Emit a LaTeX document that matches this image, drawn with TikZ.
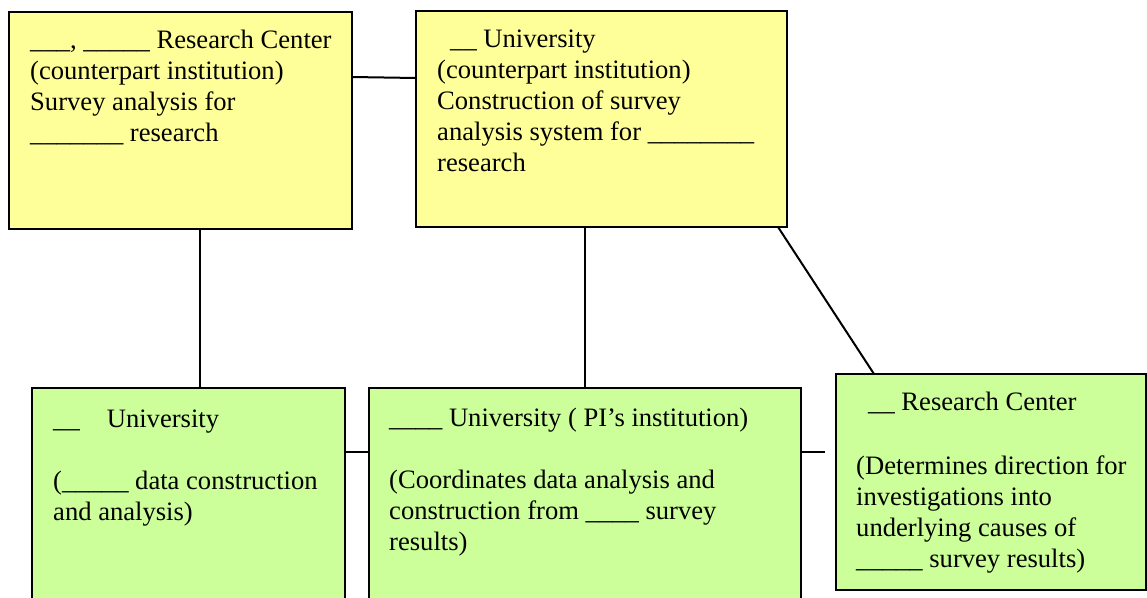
\documentclass[tikz,border=0pt]{standalone}
\usepackage{fontspec}
\setmainfont{Liberation Serif}
\definecolor{boxyellow}{HTML}{FFFF99}
\definecolor{boxgreen}{HTML}{CCFF99}
\newcommand{\fixsp}{\spaceskip=0.25em\relax}
\begin{document}
\begin{tikzpicture}[x=1pt,y=-1pt,
  ybox/.style={draw=black, line width=1.8pt, fill=boxyellow, rectangle, anchor=north west, inner sep=0pt, outer sep=0pt},
  gbox/.style={draw=black, line width=1.8pt, fill=boxgreen, rectangle, anchor=north west, inner sep=0pt, outer sep=0pt},
  boxtext/.style={anchor=base west, inner sep=0pt, text width=600pt, align=left, font=\fontsize{26.6}{31}\selectfont},
  link/.style={draw=black, line width=2pt}]
\useasboundingbox (0,0) rectangle (1147,597);
% boxes
\node[ybox, minimum width=343pt, minimum height=217pt] (b1) at (9,12) {};
\node[ybox, minimum width=371pt, minimum height=216pt] (b2) at (416,11) {};
\node[gbox, minimum width=313pt, minimum height=220pt] (b3) at (32,388) {};
\node[gbox, minimum width=432pt, minimum height=220pt] (b4) at (369,388) {};
\node[gbox, minimum width=310pt, minimum height=216pt] (b5) at (836,374) {};
% texts
\node[boxtext] (t1) at (30,48) {\fixsp\_\_\_, \_\_\_\_\_ Research Center\\(counterpart institution)\\Survey analysis for\\\_\_\_\_\_\_\_ research};
\node[boxtext] (t2) at (437,47) {\fixsp\hspace*{13pt}\_\_ University\\(counterpart institution)\\Construction of survey\\analysis system for \_\_\_\_\_\_\_\_\\research};
\node[boxtext] (t3) at (53,427) {\fixsp\_\_\hspace*{27pt}University\\[31pt](\_\_\_\_\_ data construction\\and analysis)};
\node[boxtext] (t4) at (389,426) {\fixsp\_\_\_\_ University ( PI’s institution)\\[31pt](Coordinates data analysis and\\construction from \_\_\_\_ survey\\results)};
\node[boxtext] (t5) at (856,410) {\fixsp\hspace*{12pt}\_\_ Research Center\\[33pt](Determines direction for\\investigations into\\underlying causes of\\\_\_\_\_\_ survey results)};
% connectors
\coordinate (free) at (825,452);
\draw[link] (b1.east |- 0,77) -- (b2.west |- 0,78);
\draw[link] (200,0 |- b1.south) -- (200,0 |- b3.north);
\draw[link] (585,0 |- b2.south) -- (585,0 |- b4.north);
\draw[link] (778,0 |- b2.south) -- (874,0 |- b5.north);
\draw[link] (b3.east |- 0,452) -- (b4.west |- 0,452);
\draw[link] (b4.east |- free) -- (free);
\end{tikzpicture}
\end{document}
